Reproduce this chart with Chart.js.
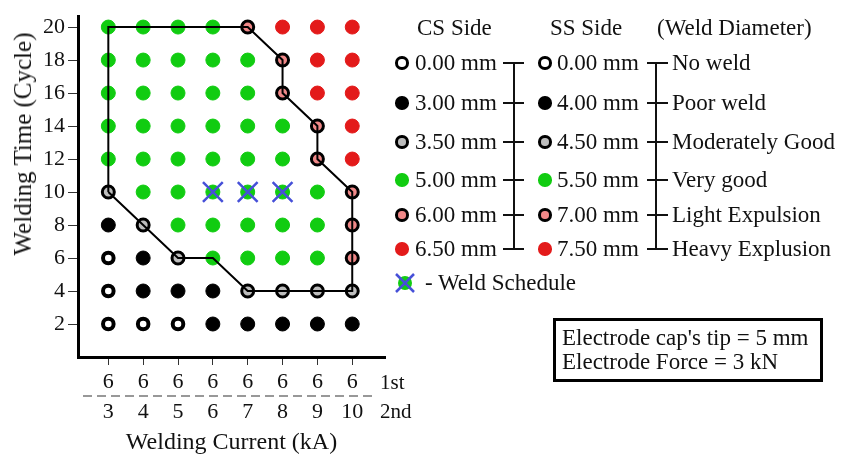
<!DOCTYPE html>
<html><head><meta charset="utf-8">
<script src="https://cdn.jsdelivr.net/npm/chart.js@4.4.1/dist/chart.umd.min.js"></script>
<style>
html,body{margin:0;padding:0;background:#fff;}
#wrap{position:relative;width:856px;height:455px;font-family:'Liberation Serif','Times New Roman',serif;color:#111;overflow:hidden;}
#wrap canvas{position:absolute;left:0;top:0;}
.t{position:absolute;white-space:nowrap;font-size:23px;line-height:24px;}
.mk{position:absolute;border-radius:50%;box-sizing:border-box;}
.ln{position:absolute;background:#111;}
#ytitle{position:absolute;left:23px;top:144px;font-size:25px;line-height:26px;white-space:nowrap;transform:translate(-50%,-50%) rotate(-90deg);}
#note{position:absolute;left:553px;top:318px;width:270px;height:64px;box-sizing:border-box;border:3px solid #000;padding:5px 0 0 6px;font-size:23px;line-height:24px;white-space:nowrap;}
</style>
</head>
<body>
<div id="wrap">
  <canvas id="c" width="856" height="455"></canvas>
  <div id="ytitle">Welding Time (Cycle)</div>
  <div id="legend"></div>
  <div id="note">Electrode cap's tip = 5 mm<br>Electrode Force = 3 kN</div>
</div>
<script>
// ---- data ----
const currents = [3, 4, 5, 6, 7, 8, 9, 10];          // 2nd pulse current (kA)
const firstPulse = [6, 6, 6, 6, 6, 6, 6, 6];         // 1st pulse current (kA)
const weldTimes = [20, 18, 16, 14, 12, 10, 8, 6, 4, 2];
// quality class index per current, one list per welding time
// 0 no weld, 1 poor, 2 moderately good, 3 very good, 4 light expulsion, 5 heavy expulsion
const row20 = [3, 3, 3, 3, 4, 5, 5, 5];
const row18 = [3, 3, 3, 3, 3, 4, 5, 5];
const row16 = [3, 3, 3, 3, 3, 4, 5, 5];
const row14 = [3, 3, 3, 3, 3, 3, 4, 5];
const row12 = [3, 3, 3, 3, 3, 3, 4, 5];
const row10 = [2, 3, 3, 3, 3, 3, 3, 4];
const row8  = [1, 2, 3, 3, 3, 3, 3, 4];
const row6  = [0, 1, 2, 3, 3, 3, 3, 4];
const row4  = [0, 1, 1, 1, 2, 2, 2, 2];
const row2  = [0, 0, 0, 1, 1, 1, 1, 1];
const boundaryCurrent = [3, 3, 7, 8, 8, 9, 9, 10, 10, 7, 6, 5, 4, 3];
const boundaryTime    = [10, 20, 20, 18, 16, 14, 12, 10, 4, 4, 6, 6, 8, 10];
const scheduleCurrent = [6, 7, 8];
const scheduleTime    = [10, 10, 10];
const csLabels = ['0.00 mm', '3.00 mm', '3.50 mm', '5.00 mm', '6.00 mm', '6.50 mm'];
const ssLabels = ['0.00 mm', '4.00 mm', '4.50 mm', '5.50 mm', '7.00 mm', '7.50 mm'];
const qualityLabels = ['No weld', 'Poor weld', 'Moderately Good', 'Very good', 'Light Expulsion', 'Heavy Explusion'];

// ---- styles ----
const FONT = "'Liberation Serif','Times New Roman',serif";
const classStyle = [
  {fill: '#ffffff', border: '#000000', r: 5.3, bw: 4},
  {fill: '#000000', border: '#000000', r: 7, bw: 1},
  {fill: '#bdbdbd', border: '#000000', r: 6, bw: 3},
  {fill: '#11cc11', border: '#11cc11', r: 7, bw: 1},
  {fill: '#f08888', border: '#000000', r: 6, bw: 3},
  {fill: '#e31a1a', border: '#e31a1a', r: 7, bw: 1}
];

const rows = [row20, row18, row16, row14, row12, row10, row8, row6, row4, row2];
const classPoints = classStyle.map(() => []);
rows.forEach((row, i) => row.forEach((k, j) => classPoints[k].push({x: currents[j], y: weldTimes[i]})));

const datasets = [];
datasets.push({
  label: 'schedule',
  data: scheduleCurrent.map((x, i) => ({x, y: scheduleTime[i]})),
  pointStyle: 'crossRot', pointRadius: 14, borderColor: '#4650d8', borderWidth: 2.5,
  backgroundColor: '#4650d8', order: -1
});
datasets.push({
  label: 'boundary',
  data: boundaryCurrent.map((x, i) => ({x, y: boundaryTime[i]})),
  showLine: true, borderColor: '#000', borderWidth: 2, pointRadius: 0, tension: 0, order: 0
});
classStyle.forEach((s, k) => datasets.push({
  label: qualityLabels[k],
  data: classPoints[k],
  pointStyle: 'circle', pointRadius: s.r, backgroundColor: s.fill,
  borderColor: s.border, borderWidth: s.bw, order: 1
}));

const dashPlugin = {
  id: 'dash',
  afterDraw(chart) {
    const ctx = chart.ctx;
    ctx.save();
    ctx.strokeStyle = '#777';
    ctx.lineWidth = 1.3;
    ctx.setLineDash([9, 5]);
    ctx.beginPath();
    ctx.moveTo(83, 396);
    ctx.lineTo(376, 396);
    ctx.stroke();
    ctx.restore();
  }
};

new Chart(document.getElementById('c'), {
  type: 'scatter',
  data: {datasets},
  options: {
    responsive: false, animation: false,
    layout: {padding: {top: 12, right: 471, left: 0, bottom: 0}},
    plugins: {legend: {display: false}, tooltip: {enabled: false}},
    scales: {
      x: {
        type: 'linear', min: 2.13, max: 10.94,
        afterBuildTicks: s => { s.ticks = currents.map(v => ({value: v})); },
        afterFit: s => { s.height = 98; s.paddingLeft = 0; s.paddingRight = 0; },
        border: {display: true, color: '#000', width: 3},
        grid: {display: true, drawOnChartArea: false, drawTicks: true, tickLength: 8, color: '#333', lineWidth: 1},
        ticks: {
          padding: 2, color: '#111', maxRotation: 0, autoSkip: false,
          font: {family: FONT, size: 22, lineHeight: 1.36},
          callback: (v, i) => [String(firstPulse[i]), String(currents[i])]
        },
        title: {display: true, text: 'Welding Current (kA)', color: '#111', font: {family: FONT, size: 24}, padding: {top: 0, bottom: -2}}
      },
      y: {
        type: 'linear', min: 0, max: 20.64,
        afterBuildTicks: s => { s.ticks = weldTimes.map(v => ({value: v})); },
        afterFit: s => { s.width = 78; s.paddingTop = 0; s.paddingBottom = 0; },
        border: {display: true, color: '#000', width: 3},
        grid: {display: true, drawOnChartArea: false, drawTicks: true, tickLength: 10, color: '#333', lineWidth: 1},
        ticks: {padding: 3, color: '#111', font: {family: FONT, size: 22}}
      }
    }
  },
  plugins: [dashPlugin]
});

// ---- legend (HTML) ----
const leg = document.getElementById('legend');
function addText(txt, left, cy, size) {
  const d = document.createElement('div');
  d.className = 't';
  d.textContent = txt;
  d.style.left = left + 'px';
  d.style.top = (cy - 12) + 'px';
  if (size) d.style.fontSize = size + 'px';
  leg.appendChild(d);
}
function addMarker(s, cx, cy) {
  const d = document.createElement('div');
  d.className = 'mk';
  const outer = 13.5;
  const bw = s.border === s.fill ? 0 : Math.min(3, s.bw);
  d.style.width = outer + 'px'; d.style.height = outer + 'px';
  d.style.left = (cx - outer / 2) + 'px'; d.style.top = (cy - outer / 2) + 'px';
  d.style.background = s.fill;
  d.style.border = bw + 'px solid ' + s.border;
  leg.appendChild(d);
}
function addLine(x, y, w, h) {
  const d = document.createElement('div');
  d.className = 'ln';
  d.style.left = x + 'px'; d.style.top = y + 'px';
  d.style.width = w + 'px'; d.style.height = h + 'px';
  leg.appendChild(d);
}
const rowY = [63, 103, 142, 180, 215, 249];
addText('CS Side', 417, 28);
addText('SS Side', 550, 28);
addText('(Weld Diameter)', 657, 28);
rowY.forEach((y, k) => {
  addMarker(classStyle[k], 402, y);
  addText(csLabels[k], 415, y);
  addMarker(classStyle[k], 545, y);
  addText(ssLabels[k], 557, y);
  addText(qualityLabels[k], 672, y);
  addLine(503, y - 1, 21, 2);
  addLine(647, y - 1, 21, 2);
});
addLine(513, rowY[0] - 1, 2, rowY[5] - rowY[0] + 2);
addLine(655, rowY[0] - 1, 2, rowY[5] - rowY[0] + 2);
// weld schedule legend marker
const sch = document.createElement('div');
sch.innerHTML = '<svg width="24" height="24" style="position:absolute;left:393px;top:271px"><circle cx="12" cy="12" r="7" fill="#11cc11"/><line x1="3" y1="3" x2="21" y2="21" stroke="#4650d8" stroke-width="2.5"/><line x1="21" y1="3" x2="3" y2="21" stroke="#4650d8" stroke-width="2.5"/></svg>';
leg.appendChild(sch);
addText('- Weld Schedule', 425, 283);
// 1st / 2nd row labels
addText('1st', 380, 382, 21);
addText('2nd', 380, 411, 21);
</script>
</body></html>
